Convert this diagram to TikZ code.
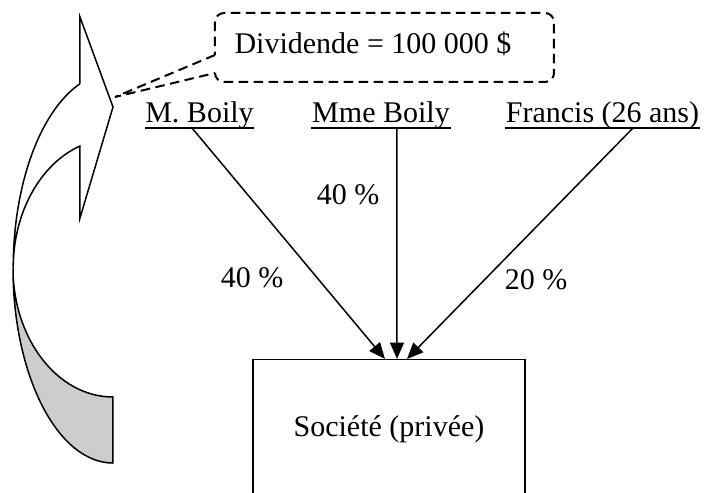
\documentclass[tikz,border=0pt]{standalone}
\usepackage{fontspec}
\setmainfont{Liberation Serif}
\usetikzlibrary{arrows.meta,positioning}
\definecolor{backface}{gray}{0.8}
\tikzstyle{arrow} = [line width=0.6pt,-{Triangle[length=6.5pt,width=5.5pt]}]
\tikzstyle{person} = [inner sep=0pt, anchor=base]
\tikzstyle{pct} = [inner sep=0pt, anchor=base]
\tikzstyle{callout} = [line width=0.8pt, dash pattern=on 3.8pt off 2.2pt]

\begin{document}
\begin{tikzpicture}[
        x=0.4pt, y=-0.4pt,
        line width=0.6pt,
        every node/.style={font=\fontsize{12}{14}\selectfont}
        ]
    \useasboundingbox (0,0) rectangle (709,493);
    \clip (0,0) rectangle (709,493);

    % curved block arrow
    \draw[fill=backface] (13,268) arc[start angle=180, end angle=90, x radius=100, y radius=195]
        -- (113,397) arc[start angle=90, end angle=180, x radius=100, y radius=129] -- cycle;
    \draw[fill=white] (80,84) -- (80,17) -- (113,107) -- (80,218) -- (80,146)
        arc[start angle=250.6, end angle=180, x radius=100, y radius=129]
        arc[start angle=180, end angle=250.6, x radius=100, y radius=195] -- cycle;

    % callout
    \draw[callout] (215,55) -- (115,97) -- (215,73) [rounded corners=3.6pt] -- (215,82) -- (554,82)
        -- (554,13) -- (215,13) -- (215,55);
    \node[person] (dividende) at (373,53) {Dividende = 100 000 \$};

    \node[person] (mboily) at (199.5,123) {M. Boily};
    \node[person] (mmeboily) at (381,123) {Mme Boily};
    \node[person] (francis) at (602.5,123) {Francis (26 ans)};
    \foreach \n in {mboily,mmeboily,francis}
        \draw ([yshift=-2pt]\n.base west) -- ([yshift=-2pt]\n.base east);

    \node[draw, minimum width=108.8pt, minimum height=56pt, anchor=north] (societe) at (389,359) {Société (privée)};

    \draw[arrow] ([xshift=-3pt,yshift=-2pt]mboily.base) -- ([xshift=-1.6pt]societe.north);
    \draw[arrow] ([xshift=6.4pt,yshift=-2pt]mmeboily.base) -- ([xshift=3.2pt]societe.north);
    \draw[arrow] ([xshift=12.2pt,yshift=-2pt]francis.base) -- ([xshift=7.2pt]societe.north);

    \node[pct] (pboily) at (252,288) {40 \%};
    \node[pct] (pmme) at (348,205) {40 \%};
    \node[pct] (pfrancis) at (536,290) {20 \%};
\end{tikzpicture}
\end{document}
